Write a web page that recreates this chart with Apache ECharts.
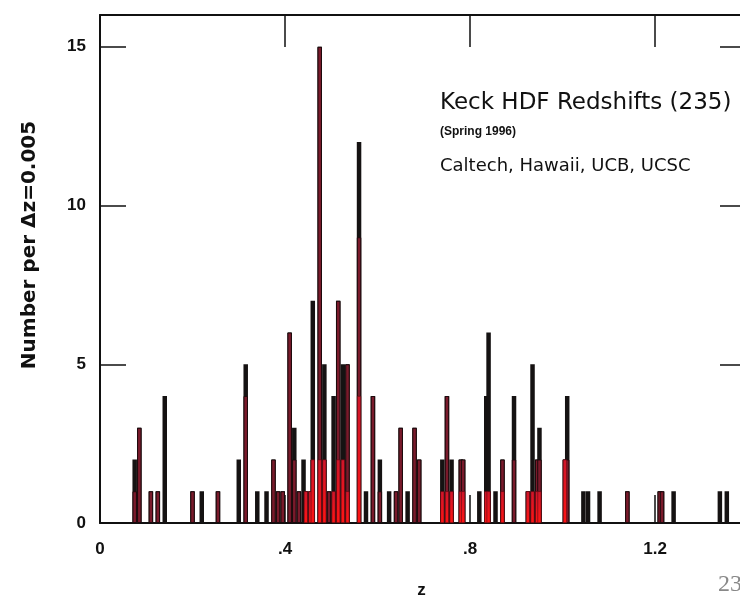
<!DOCTYPE html>
<html>
<head>
<meta charset="utf-8">
<script src="https://cdn.jsdelivr.net/npm/echarts@6/dist/echarts.min.js"></script>
<style>
html,body{margin:0;padding:0;background:#fff;}
#c{width:740px;height:599px;}
</style>
</head>
<body>
<div id="c"></div>
<script>
// Redshift bins (z, bin width 0.005) and counts
const zBins       = [0.075,0.085,0.11,0.125,0.14,0.2,0.22,0.255,0.3,0.315,0.34,0.36,0.375,0.385,0.395,0.41,0.42,0.43,0.44,0.445,0.455,0.46,0.475,0.485,0.495,0.505,0.515,0.525,0.535,0.56,0.575,0.59,0.605,0.625,0.64,0.65,0.665,0.68,0.69,0.74,0.75,0.76,0.78,0.785,0.82,0.835,0.84,0.855,0.87,0.895,0.925,0.935,0.945,0.95,1.005,1.01,1.045,1.055,1.08,1.14,1.21,1.215,1.24,1.34,1.355];
const totalCounts = [2,3,1,1,4,1,1,1,2,5,1,1,2,1,1,6,3,1,2,1,1,7,15,5,1,4,7,5,5,12,1,4,2,1,1,3,1,3,2,2,4,2,2,2,1,4,6,1,2,4,1,5,2,3,2,4,1,1,1,1,1,1,1,1,1];
const midCounts   = [1,3,1,1,0,1,0,1,0,4,0,0,2,1,1,6,2,1,0,1,1,2,15,2,1,1,7,2,5,9,0,4,1,0,1,3,0,3,2,1,4,1,2,2,0,0,1,0,2,2,1,1,2,2,2,2,0,0,0,1,1,1,0,0,0];
const lowCounts   = [0,0,0,0,0,0,0,0,0,0,0,0,0,0,0,0,0,0,0,1,1,2,2,2,0,1,2,2,1,4,0,0,0,0,0,0,0,0,0,1,1,1,1,1,0,1,1,0,1,0,1,1,1,1,2,0,0,0,0,0,0,0,0,0,0];
const xTickLabels = {0:'0', 0.4:'.4', 0.8:'.8', 1.2:'1.2'};
const yTicks = [0,5,10,15];

const pairs = arr => zBins.map((z,i)=>[z,arr[i]]).filter(p=>p[1]>0);

const chart = echarts.init(document.getElementById('c'), null, {renderer:'canvas'});
const axisBase = {type:'value', min:0, max:1.39, interval:0.4, splitLine:{show:false}};
const labelFont = {fontFamily:'"Liberation Sans Narrow", "Liberation Sans", Arial, sans-serif', fontWeight:'bold', fontSize:17, color:'#111'};
const lineSt = {show:true, onZero:false, lineStyle:{color:'#111', width:2}};
chart.setOption({
  animation:false,
  backgroundColor:'#fff',
  grid:{left:100, right:-3, top:15, bottom:76, containLabel:false, outerBoundsMode:'none'},
  xAxis:[
    Object.assign({}, axisBase, {position:'bottom',
      axisLine:lineSt,
      axisTick:{show:true, inside:true, length:28, lineStyle:{color:'#111', width:1.5}},
      axisLabel:Object.assign({margin:18, showMaxLabel:false, formatter:v=>{const k=Math.round(v*10)/10; return xTickLabels[k]!==undefined?xTickLabels[k]:'';}}, labelFont),
      name:'z', nameLocation:'middle', nameGap:59, nameTextStyle:Object.assign({}, labelFont)}),
    Object.assign({}, axisBase, {position:'top',
      axisLine:lineSt,
      axisTick:{show:true, inside:true, length:32, lineStyle:{color:'#111', width:1.5}},
      axisLabel:{show:false}}),
    Object.assign({}, axisBase, {show:false}),
    Object.assign({}, axisBase, {show:false})
  ],
  yAxis:[
    {type:'value', min:0, max:16, interval:5, position:'left',
      splitLine:{show:false},
      axisLine:lineSt,
      axisTick:{show:true, inside:true, length:26, lineStyle:{color:'#111', width:1.5}},
      axisLabel:Object.assign({margin:14, formatter:v=>yTicks.indexOf(v)>=0?String(v):''}, labelFont)},
    {type:'value', min:0, max:16, interval:5, position:'right',
      splitLine:{show:false},
      axisLine:{show:false, onZero:false},
      axisTick:{show:true, inside:true, length:23, lineStyle:{color:'#111', width:1.5}},
      axisLabel:{show:false}}
  ],
  series:[
    {type:'bar', name:'all', xAxisIndex:0, yAxisIndex:0, barWidth:4.5, data:pairs(totalCounts),
      itemStyle:{color:'#151212'}},
    {type:'bar', name:'mid', xAxisIndex:2, yAxisIndex:0, barWidth:4.5, data:pairs(midCounts),
      itemStyle:{color:'#7a1a2b', borderColor:'#1c0a0c', borderWidth:1}},
    {type:'bar', name:'low', xAxisIndex:3, yAxisIndex:0, barWidth:4, data:pairs(lowCounts),
      itemStyle:{color:new echarts.graphic.LinearGradient(0,1,0,0,[{offset:0,color:'#ff1414'},{offset:1,color:'#d0162a'}]), borderColor:'#5a0a12', borderWidth:0.6}}
  ],
  graphic:[
    {type:'text', left:440, top:92, style:{text:'Keck HDF Redshifts (235)', font:'23px "DejaVu Sans", sans-serif', fill:'#111'}},
    {type:'text', left:440, top:126, style:{text:'(Spring 1996)', font:'bold 12px "Liberation Sans", Arial, sans-serif', fill:'#111'}},
    {type:'text', left:440, top:157, style:{text:'Caltech, Hawaii, UCB, UCSC', font:'18px "DejaVu Sans", sans-serif', fill:'#111'}},
    {type:'text', x:30, y:245, rotation:Math.PI/2, style:{text:'Number per \u0394z=0.005', font:'bold 20px "DejaVu Sans", sans-serif', fill:'#111', align:'center', verticalAlign:'middle'}},
    {type:'text', left:718, top:573, style:{text:'23', font:'24px "Liberation Serif", "DejaVu Serif", serif', fill:'#888'}}
  ]
});
</script>
</body>
</html>
